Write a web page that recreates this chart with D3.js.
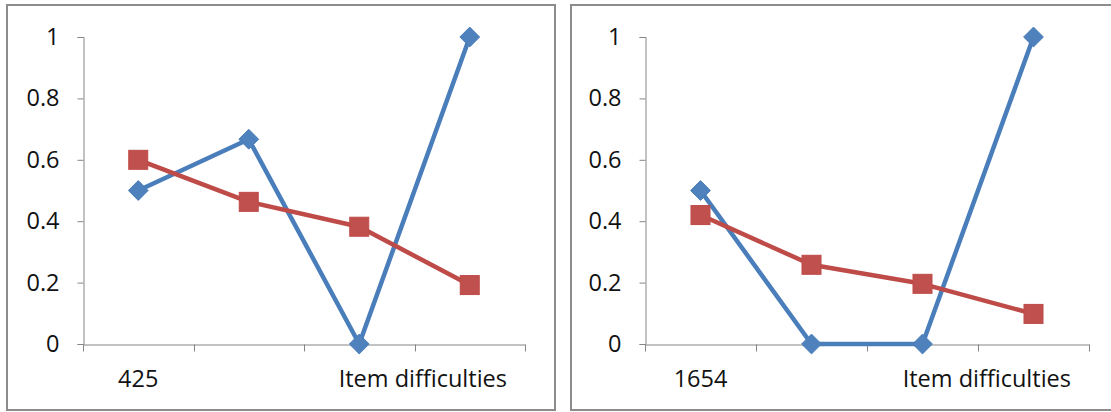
<!DOCTYPE html>
<html>
<head>
<meta charset="utf-8">
<script src="https://cdn.jsdelivr.net/npm/d3@7"></script>
<style>
  html, body { margin: 0; padding: 0; background: #ffffff; }
  svg { display: block; }
  text { font-family: "Open Sans", "Noto Sans", sans-serif; fill: #111; }
</style>
</head>
<body>
<svg id="chart" width="1111" height="412"></svg>
<script>
// ---- data ----
const categories = [1, 2, 3, 4];
const yTicks = [0, 0.2, 0.4, 0.6, 0.8, 1];
const panelFirstLabels = ["425", "1654"];
const axisTitle = "Item difficulties";
const blueLeft = [0.5, 0.667, 0, 1];
const redLeft = [0.6, 0.463, 0.382, 0.192];
const blueRight = [0.5, 0, 0, 1];
const redRight = [0.42, 0.258, 0.196, 0.098];

const panels = [
  { label: panelFirstLabels[0], blue: blueLeft, red: redLeft },
  { label: panelFirstLabels[1], blue: blueRight, red: redRight }
];

// ---- layout ----
const layouts = [
  { box: [7, 5, 548, 405], plot: [83, 37, 442, 307] },
  { box: [571, 5, 560, 405], plot: [645, 37, 444, 307] }
];

const BLUE = "#4A7EBB", BLUE_FILL = "#4F81BD";
const RED = "#BE4B48", RED_FILL = "#C0504D";
const AXIS = "#868686";
const FS = "23.5px";

const svg = d3.select("#chart");

panels.forEach((p, i) => {
  const L = layouts[i];
  const [bx, by, bw, bh] = L.box;
  const [px, py, pw, ph] = L.plot;

  svg.append("rect")
    .attr("x", bx).attr("y", by).attr("width", bw).attr("height", bh)
    .attr("fill", "#fff").attr("stroke", "#8c8c8c").attr("stroke-width", 2);

  const x = d3.scaleBand().domain(categories).range([px, px + pw]).padding(0);
  const y = d3.scaleLinear().domain([0, 1]).range([py + ph, py]);
  const cx = d => x(d) + x.bandwidth() / 2;

  // y axis
  const yAxis = svg.append("g")
    .attr("transform", `translate(${px + 0.5},0)`)
    .call(d3.axisLeft(y).tickValues(yTicks).tickSize(6).tickPadding(18)
      .tickFormat(d => d === 0 || d === 1 ? d3.format("d")(d) : d3.format(".1f")(d)));
  yAxis.select(".domain").attr("stroke", AXIS);
  yAxis.selectAll(".tick line").attr("stroke", AXIS);
  yAxis.selectAll(".tick text")
    .style("font-size", FS).attr("fill", "#111");

  // x axis
  const xAxis = svg.append("g")
    .attr("transform", `translate(0,${py + ph + 0.5})`)
    .call(d3.axisBottom(x).tickValues([]).tickSizeOuter(0));
  xAxis.select(".domain").attr("stroke", AXIS);
  const boundaries = categories.map(c => x(c)).concat([px + pw]);
  xAxis.selectAll("line.bt").data(boundaries).enter().append("line")
    .attr("class", "bt")
    .attr("x1", d => Math.round(d) + 0.5).attr("x2", d => Math.round(d) + 0.5)
    .attr("y1", 0).attr("y2", 7).attr("stroke", AXIS);

  // category labels
  svg.append("text")
    .attr("x", cx(categories[0])).attr("y", py + ph + 43)
    .attr("text-anchor", "middle").style("font-size", FS)
    .text(p.label);
  svg.append("text")
    .attr("x", px + pw - 18).attr("y", py + ph + 43)
    .attr("text-anchor", "end").style("font-size", FS)
    .text(axisTitle);

  const line = d3.line().x((d, k) => cx(categories[k])).y(d => y(d));

  // blue series
  svg.append("path").datum(p.blue).attr("d", line)
    .attr("fill", "none").attr("stroke", BLUE).attr("stroke-width", 4.5)
    .attr("stroke-linejoin", "round");
  // red series
  svg.append("path").datum(p.red).attr("d", line)
    .attr("fill", "none").attr("stroke", RED).attr("stroke-width", 4.5)
    .attr("stroke-linejoin", "round");

  const diamond = d3.symbol().type(d3.symbolDiamond2).size(250);
  svg.append("g").selectAll("path").data(p.blue).enter().append("path")
    .attr("d", diamond)
    .attr("transform", (d, k) => `translate(${cx(categories[k])},${y(d)})`)
    .attr("fill", BLUE_FILL).attr("stroke", BLUE).attr("stroke-width", 1);

  svg.append("g").selectAll("rect").data(p.red).enter().append("rect")
    .attr("x", (d, k) => cx(categories[k]) - 9.5)
    .attr("y", d => y(d) - 9.5)
    .attr("width", 19).attr("height", 19)
    .attr("fill", RED_FILL).attr("stroke", RED).attr("stroke-width", 1);
});
</script>
</body>
</html>
